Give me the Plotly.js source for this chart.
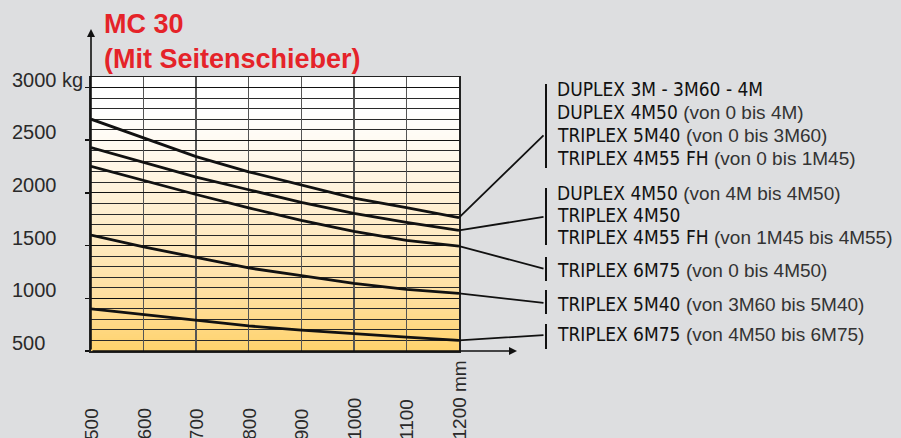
<!DOCTYPE html>
<html><head><meta charset="utf-8">
<script src="https://cdn.plot.ly/plotly-3.0.1.min.js"></script>
<style>html,body{margin:0;padding:0;background:#DDDEE0}#chart{width:901px;height:438px}</style>
</head><body><div id="chart"></div>
<script>
// ---- data ----
const liftHeights = [500, 600, 700, 800, 900, 1000, 1100, 1200];           // mm
const curveDuplex3M   = [2700, 2520, 2345, 2200, 2078, 1950, 1860, 1765];  // kg
const curveDuplex4M50 = [2430, 2290, 2150, 2030, 1910, 1806, 1720, 1645];
const curveTriplex6M75a = [2252, 2115, 1985, 1858, 1740, 1636, 1550, 1495];
const curveTriplex5M40b = [1600, 1488, 1388, 1288, 1216, 1141, 1085, 1047];
const curveTriplex6M75b = [900, 845, 788, 738, 698, 668, 632, 600];
const seriesList = [curveDuplex3M, curveDuplex4M50, curveTriplex6M75a, curveTriplex5M40b, curveTriplex6M75b];

const xTickVals = [500, 600, 700, 800, 900, 1000, 1100, 1200];
const xTickText = ['500', '600', '700', '800', '900', '1000', '1100', '1200 mm'];
const yTickVals = [500, 1000, 1500, 2000, 2500, 3000];
const yTickText = ['500', '1000', '1500', '2000', '2500', '3000 kg'];

const legendMain = [
  ['DUPLEX 3M - 3M60 - 4M', 'DUPLEX 4M50', 'TRIPLEX 5M40', 'TRIPLEX 4M55 FH'],
  ['DUPLEX 4M50', 'TRIPLEX 4M50', 'TRIPLEX 4M55 FH'],
  ['TRIPLEX 6M75'],
  ['TRIPLEX 5M40'],
  ['TRIPLEX 6M75']
];
const legendNote = [
  ['', '(von 0 bis 4M)', '(von 0 bis 3M60)', '(von 0 bis 1M45)'],
  ['(von 4M bis 4M50)', '', '(von 1M45 bis 4M55)'],
  ['(von 0 bis 4M50)'],
  ['(von 3M60 bis 5M40)'],
  ['(von 4M50 bis 6M75)']
];

// ---- layout geometry (pixels) ----
const W = 901, H = 438;
const mL = 91, mR = 442, mT = 77, mB = 87;
const plotW = W - mL - mR, plotH = H - mT - mB;
const xRange = [500, 1200], yRange = [500, 3100];
const px2x = p => xRange[0] + (p - mL) / plotW * (xRange[1] - xRange[0]);
const py2y = p => yRange[0] + (H - mB - p) / plotH * (yRange[1] - yRange[0]);
const px2paperX = p => (p - mL) / plotW;
const py2paperY = p => (H - mB - p) / plotH;

// legend layout (pixel rows)
const legendRows = [[88.5, 111.8, 135, 158.3], [192.7, 215.2, 237], [270], [303.5], [333.5]];
const bracketSpans = [[84, 168], [188, 245], [257, 281], [290, 314], [324, 349]];
const leaderTargetsPy = [134, 216.7, 269, 303, 335];
const bracketPx = 546, textPx = 555;

// gradient background image
const cv = document.createElement('canvas');
cv.width = 4; cv.height = 520;
const ctx = cv.getContext('2d');
const g = ctx.createLinearGradient(0, 0, 0, 520);
g.addColorStop(0, '#FFFFFF');
g.addColorStop(0.12, '#FFFFFF');
g.addColorStop(0.23, '#FFFBF3');
g.addColorStop(0.42, '#FFF2DA');
g.addColorStop(0.615, '#FFE9BE');
g.addColorStop(0.81, '#FFDF9E');
g.addColorStop(1, '#FFD36C');
ctx.fillStyle = g; ctx.fillRect(0, 0, 4, 520);
const bgURL = cv.toDataURL('image/png');

// ---- traces ----
const traces = seriesList.map(s => ({
  x: liftHeights, y: s, type: 'scatter', mode: 'lines',
  line: {color: '#111111', width: 2.8}, hoverinfo: 'skip', showlegend: false
}));

const annotations = [];
// y tick labels (left aligned)
yTickVals.forEach((v, i) => annotations.push({
  xref: 'paper', yref: 'y', x: px2paperX(10), y: v, xanchor: 'left', yanchor: 'middle',
  yshift: 8, text: yTickText[i], showarrow: false,
  font: {family: 'Liberation Sans, Arial, sans-serif', size: 20, color: '#2a2a2a'}
}));
// x tick labels (rotated, bottom anchored)
xTickVals.forEach((v, i) => annotations.push({
  xref: 'x', yref: 'paper', x: v, y: py2paperY(442), xanchor: 'center', yanchor: 'bottom',
  textangle: -90, text: xTickText[i], showarrow: false,
  font: {family: 'Liberation Sans, Arial, sans-serif', size: 19, color: '#2a2a2a'}
}));
// axis arrows
annotations.push({xref: 'paper', yref: 'paper', x: 0, y: py2paperY(29), ax: 0, ay: 322,
  axref: 'pixel', ayref: 'pixel', text: '', showarrow: true, arrowhead: 2, arrowsize: 1,
  arrowwidth: 1.6, arrowcolor: '#111', standoff: 0, startstandoff: 0});
annotations.push({xref: 'paper', yref: 'paper', x: px2paperX(517), y: 0, ax: -426, ay: 0,
  axref: 'pixel', ayref: 'pixel', text: '', showarrow: true, arrowhead: 2, arrowsize: 1,
  arrowwidth: 1.6, arrowcolor: '#111', standoff: 0, startstandoff: 0});
// leader lines from curve ends to brackets
seriesList.forEach((s, i) => annotations.push({
  xref: 'x', yref: 'y', x: liftHeights[liftHeights.length - 1], y: s[s.length - 1],
  axref: 'x', ayref: 'y', ax: px2x(bracketPx - 1), ay: py2y(leaderTargetsPy[i]),
  text: '', showarrow: true, arrowhead: 0, arrowwidth: 1.8, arrowcolor: '#111',
  standoff: 0, startstandoff: 0
}));
// legend texts
legendMain.forEach((grp, gi) => grp.forEach((m, li) => {
  const note = legendNote[gi][li];
  let txt = m;
  if (note) txt += ' <span style="font-family:Liberation Sans, Arial, sans-serif;font-size:19px;color:#333333">' + note + '</span>';
  annotations.push({
    xref: 'paper', yref: 'paper', x: px2paperX(textPx), y: py2paperY(legendRows[gi][li]),
    xanchor: 'left', yanchor: 'middle', text: txt, showarrow: false,
    font: {family: 'Liberation Sans Narrow, Arial Narrow, DejaVu Sans Condensed, sans-serif', size: 19, color: '#111111'}
  });
}));

const shapes = bracketSpans.map(sp => ({
  type: 'line', xref: 'paper', yref: 'paper',
  x0: px2paperX(bracketPx), x1: px2paperX(bracketPx),
  y0: py2paperY(sp[0]), y1: py2paperY(sp[1]),
  line: {color: '#111', width: 2}
}));

const layout = {
  width: W, height: H,
  margin: {l: mL, r: mR, t: mT, b: mB, pad: 0},
  paper_bgcolor: '#DDDEE0', plot_bgcolor: '#DDDEE0',
  showlegend: false,
  title: {
    text: '<b>MC 30<br>(Mit Seitenschieber)</b>',
    font: {family: 'Liberation Sans, Arial, sans-serif', size: 27, color: '#E52329'},
    xref: 'container', yref: 'container', x: 104 / W, xanchor: 'left',
    y: 1 - 33 / H, yanchor: 'top'
  },
  xaxis: {
    range: xRange, tick0: 500, dtick: 100, showticklabels: false, ticks: '',
    showgrid: true, gridcolor: '#555555', gridwidth: 1.5, zeroline: false,
    showline: true, linecolor: '#222', linewidth: 1.5, mirror: true, fixedrange: true
  },
  yaxis: {
    range: yRange, tick0: 500, dtick: 500, showticklabels: false,
    ticks: 'outside', ticklen: 4, tickwidth: 1.5, tickcolor: '#111',
    showgrid: true, gridcolor: '#111111', gridwidth: 1, zeroline: false,
    minor: {tick0: 500, dtick: 100, showgrid: true, gridcolor: '#2a2a2a', gridwidth: 1, ticks: ''},
    showline: true, linecolor: '#222', linewidth: 1.8, mirror: true, fixedrange: true
  },
  images: [{
    source: bgURL, xref: 'x', yref: 'y', x: xRange[0], y: yRange[1],
    sizex: xRange[1] - xRange[0], sizey: yRange[1] - yRange[0],
    xanchor: 'left', yanchor: 'top', sizing: 'stretch', layer: 'below'
  }],
  annotations: annotations,
  shapes: shapes
};

Plotly.newPlot('chart', traces, layout, {staticPlot: true, displayModeBar: false});
</script>
</body></html>
